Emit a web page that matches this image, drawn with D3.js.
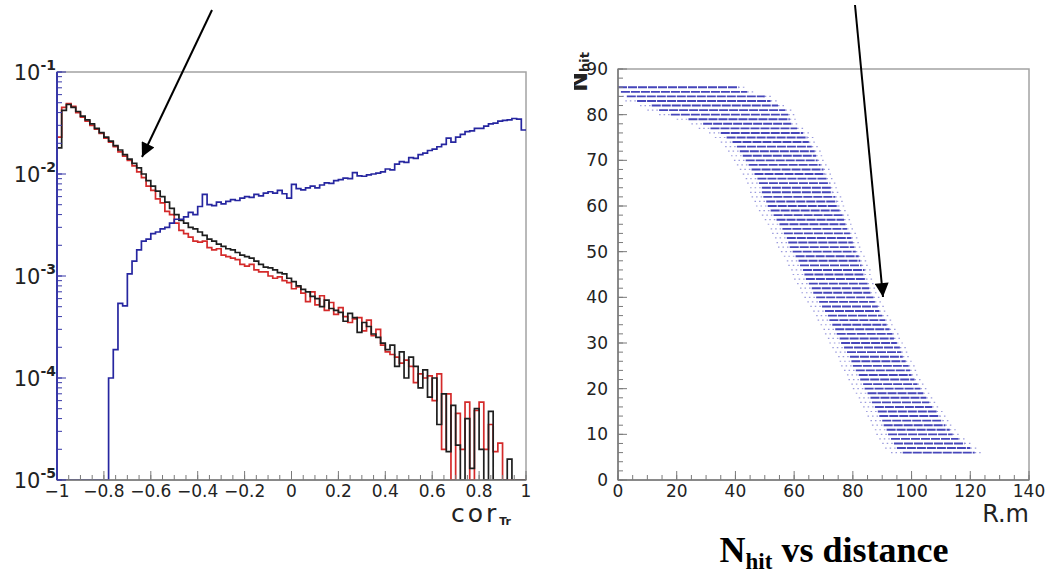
<!DOCTYPE html>
<html>
<head>
<meta charset="utf-8">
<script src="https://cdn.jsdelivr.net/npm/d3@7"></script>
<style>
body { margin: 0; background: #fff; }
</style>
</head>
<body>
<svg id="chart" width="1053" height="576"></svg>
<script>

// left panel: 100 bins of width 0.02 over cor_Tr [-1, 1]
let binRange = [-1, 1];

let blackHist = [
    1.8e-2, 4.2e-2, 4.8e-2, 4.5e-2, 4.1e-2, 3.7e-2, 3.4e-2, 3.1e-2, 2.8e-2, 2.55e-2,
    2.3e-2, 2.1e-2, 1.9e-2, 1.72e-2, 1.55e-2, 1.4e-2, 1.27e-2, 1.15e-2, 1.0e-2, 8.6e-3,
    7.6e-3, 6.8e-3, 6.0e-3, 5.3e-3, 4.6e-3, 4.0e-3, 3.5e-3, 3.3e-3, 3.0e-3, 2.9e-3,
    2.7e-3, 2.5e-3, 2.3e-3, 2.2e-3, 2.05e-3, 1.95e-3, 1.85e-3, 1.8e-3, 1.7e-3, 1.6e-3,
    1.55e-3, 1.5e-3, 1.4e-3, 1.3e-3, 1.22e-3, 1.2e-3, 1.15e-3, 1.08e-3, 1.05e-3, 9.5e-4,
    8.8e-4, 8.0e-4, 7.4e-4, 7.0e-4, 6.3e-4, 6.0e-4, 5.0e-4, 5.8e-4, 4.8e-4, 4.6e-4,
    4.4e-4, 3.6e-4, 4.3e-4, 3.9e-4, 2.8e-4, 3.5e-4, 3.2e-4, 2.7e-4, 2.5e-4, 2.2e-4,
    1.9e-4, 2.1e-4, 1.3e-4, 1.8e-4, 1.0e-4, 1.6e-4, 1.3e-4, 8.0e-5, 1.2e-4, 6.5e-5,
    1.0e-4, 3.5e-5, 7.0e-5, 1.9e-5, 5.4e-5, 2.2e-5, 0, 4.0e-5, 1.3e-5, 5.0e-5,
    2.0e-5, 0, 4.7e-5, 0, 0, 0, 1.6e-5, 0, 0, 0
];

let redHist = [
    2.3e-2, 4.5e-2, 4.9e-2, 4.6e-2, 4.0e-2, 3.6e-2, 3.3e-2, 3.0e-2, 2.75e-2, 2.5e-2,
    2.25e-2, 2.05e-2, 1.85e-2, 1.65e-2, 1.5e-2, 1.36e-2, 1.2e-2, 1.05e-2, 9.2e-3, 7.6e-3,
    6.9e-3, 5.7e-3, 5.2e-3, 4.3e-3, 4.0e-3, 3.3e-3, 2.8e-3, 2.6e-3, 2.4e-3, 2.2e-3,
    2.15e-3, 2.2e-3, 1.9e-3, 1.8e-3, 1.85e-3, 1.6e-3, 1.55e-3, 1.5e-3, 1.45e-3, 1.3e-3,
    1.25e-3, 1.3e-3, 1.15e-3, 1.1e-3, 1.1e-3, 1.0e-3, 9.5e-4, 9.8e-4, 9.0e-4, 8.6e-4,
    7.5e-4, 7.8e-4, 6.8e-4, 5.6e-4, 7.0e-4, 5.2e-4, 6.4e-4, 4.6e-4, 5.5e-4, 4.2e-4,
    4.9e-4, 4.0e-4, 3.5e-4, 3.8e-4, 3.9e-4, 2.9e-4, 3.7e-4, 2.6e-4, 3.0e-4, 2.1e-4,
    1.8e-4, 1.7e-4, 1.6e-4, 1.4e-4, 1.5e-4, 1.3e-4, 9.0e-5, 1.1e-4, 1.0e-4, 1.05e-4,
    6.0e-5, 1.1e-4, 2.0e-5, 7.0e-5, 0, 4.5e-5, 2.0e-5, 5.8e-5, 1.0e-5, 4.8e-5,
    5.8e-5, 2.0e-5, 3.5e-5, 1.9e-5, 2.3e-5, 0, 0, 0, 0, 0
];

let blueHist = [
    0, 0, 0, 0, 0, 0, 0, 0, 0, 0,
    0, 1.0e-4, 1.9e-4, 5.4e-4, 5.1e-4, 1.05e-3, 1.4e-3, 1.8e-3, 2.2e-3, 2.3e-3,
    2.6e-3, 2.7e-3, 2.9e-3, 3.0e-3, 3.3e-3, 3.6e-3, 3.6e-3, 3.8e-3, 4.2e-3, 4.0e-3,
    4.8e-3, 6.3e-3, 5.0e-3, 4.9e-3, 5.3e-3, 5.1e-3, 5.4e-3, 5.6e-3, 5.5e-3, 5.8e-3,
    6.0e-3, 5.9e-3, 6.3e-3, 6.1e-3, 6.5e-3, 6.7e-3, 6.5e-3, 6.9e-3, 6.4e-3, 5.8e-3,
    7.9e-3, 7.2e-3, 7.0e-3, 7.3e-3, 7.6e-3, 7.3e-3, 7.8e-3, 8.2e-3, 8.1e-3, 8.6e-3,
    8.8e-3, 9.1e-3, 9.0e-3, 1.03e-2, 9.6e-3, 9.5e-3, 9.8e-3, 1.0e-2, 1.02e-2, 1.05e-2,
    1.12e-2, 1.1e-2, 1.25e-2, 1.32e-2, 1.3e-2, 1.45e-2, 1.42e-2, 1.55e-2, 1.6e-2, 1.7e-2,
    1.75e-2, 1.85e-2, 1.95e-2, 2.25e-2, 2.05e-2, 2.3e-2, 2.45e-2, 2.6e-2, 2.65e-2, 2.8e-2,
    2.8e-2, 2.95e-2, 3.1e-2, 3.15e-2, 3.3e-2, 3.35e-2, 3.4e-2, 3.5e-2, 3.45e-2, 2.7e-2
];

let corTicks = [-1, -0.8, -0.6, -0.4, -0.2, 0, 0.2, 0.4, 0.6, 0.8, 1];
let corTickLabels = ['\u22121', '\u22120.8', '\u22120.6', '\u22120.4', '\u22120.2', '0', '0.2', '0.4', '0.6', '0.8', '1'];
let logTicks = [1e-1, 1e-2, 1e-3, 1e-4, 1e-5];
let logTickExp = ['-1', '-2', '-3', '-4', '-5'];

// right panel: one row of hits per N_hit, from start to end distance (m)
let rowNhit = [86, 85, 84, 83, 82, 81, 80, 79, 78, 77, 76, 75, 74, 73, 72, 71, 70, 69, 68, 67,
    66, 65, 64, 63, 62, 61, 60, 59, 58, 57, 56, 55, 54, 53, 52, 51, 50, 49, 48, 47,
    46, 45, 44, 43, 42, 41, 40, 39, 38, 37, 36, 35, 34, 33, 32, 31, 30, 29, 28, 27,
    26, 25, 24, 23, 22, 21, 20, 19, 18, 17, 16, 15, 14, 13, 12, 11, 10, 9, 8, 7, 6];
let rowStart = [0, 1, 3, 6.5, 11.5, 14, 18, 24, 29, 31.5, 35, 37, 39, 40.5, 41.5, 42.5, 43.5, 44.5, 45.5, 46.5,
    47.5, 48, 49, 49, 49.5, 50.5, 51, 52, 53, 54, 55, 56, 56.5, 57.5, 58, 58.5, 59.5, 60.5, 61.5, 62,
    63, 63.5, 64, 65, 66, 66.5, 67.5, 68.5, 69.5, 70.5, 71.5, 72, 73, 74, 74.5, 75.5, 76, 77, 78, 79,
    79.5, 80, 81, 82, 82.5, 83.5, 84, 85, 86, 86.5, 87.5, 88.5, 89, 90, 90.5, 91.5, 92, 93, 94, 95, 97];
let rowEnd = [41, 44, 50, 52, 54.5, 57, 58, 58.5, 59, 61, 63, 64.5, 65, 66, 67, 67.5, 68, 69, 70, 70.5,
    71, 72, 72.5, 73, 74, 74.5, 75, 75.5, 76.5, 77, 77.5, 78, 79, 79.5, 80, 80.5, 81, 82, 82.5, 83,
    84, 84, 84.5, 85, 85.5, 86, 87, 87.5, 88.5, 89, 90, 91, 91.5, 92.5, 93.5, 94, 95, 96, 96.5, 97,
    98, 99, 99.5, 100, 101, 102, 103, 104, 105, 106, 107, 108.5, 109.5, 110.5, 111.5, 113, 114, 116, 118, 120, 121.5];
let rTicks = [0, 20, 40, 60, 80, 100, 120, 140];
let nTicks = [0, 10, 20, 30, 40, 50, 60, 70, 80, 90];


let svg = d3.select('#chart');
let tickFont = 'DejaVu Sans, sans-serif';
let frameColor = '#a3a3a3';
let axisColor = '#7a7a7a';

// ---------------- left panel ----------------
let xL = d3.scaleLinear().domain(binRange).range([57, 526]);
let yL = d3.scaleLog().domain([1e-5, 1e-1]).range([480, 72]).clamp(true);

svg.append('clipPath').attr('id', 'clipL')
    .append('rect').attr('x', 57).attr('y', 72).attr('width', 469).attr('height', 408);

// frame
svg.append('rect')
    .attr('x', 57).attr('y', 72).attr('width', 469).attr('height', 408)
    .attr('fill', 'none').attr('stroke', frameColor).attr('stroke-width', 1.5);

// turn bin contents into step points
function stepPoints(vals) {
    let w = (binRange[1] - binRange[0]) / vals.length;
    let pts = [];
    vals.forEach(function (v, i) {
        let lo = binRange[0] + i * w;
        let vv = v > 0 ? v : 1e-5;
        pts.push([lo, vv], [lo + w, vv]);
    });
    return pts;
}

let histLine = d3.line()
    .x(d => xL(d[0]))
    .y(d => yL(d[1]));

let series = [
    { vals: redHist, color: '#d42a2a' },
    { vals: blackHist, color: '#1e1e1e' },
    { vals: blueHist, color: '#2626a0' }
];

svg.append('g').attr('clip-path', 'url(#clipL)')
    .selectAll('path')
    .data(series)
    .join('path')
    .attr('d', d => histLine(stepPoints(d.vals)))
    .attr('fill', 'none')
    .attr('stroke', d => d.color)
    .attr('stroke-width', 1.7)
    .attr('stroke-linejoin', 'miter');

// x axis (ticks pointing inside)
let gxL = svg.append('g').attr('transform', 'translate(0,480)');
gxL.append('line').attr('x1', 57).attr('x2', 526).attr('stroke', axisColor).attr('stroke-width', 1.5);
gxL.selectAll('.minor')
    .data(d3.range(-1, 1.0001, 0.05))
    .join('line')
    .attr('x1', d => xL(d)).attr('x2', d => xL(d))
    .attr('y1', 0).attr('y2', -5)
    .attr('stroke', axisColor);
gxL.selectAll('.major')
    .data(corTicks)
    .join('line')
    .attr('x1', d => xL(d)).attr('x2', d => xL(d))
    .attr('y1', 0).attr('y2', -9)
    .attr('stroke', axisColor);
gxL.selectAll('text')
    .data(corTicks)
    .join('text')
    .attr('x', d => xL(d))
    .attr('y', 17)
    .attr('text-anchor', 'middle')
    .attr('font-family', tickFont)
    .attr('font-size', '17px')
    .attr('fill', '#222')
    .text((d, i) => corTickLabels[i]);

// y axis (log), drawn in blue like the reference
let gyL = svg.append('g');
let blueAxis = '#3838a8';
gyL.append('line').attr('x1', 57).attr('x2', 57).attr('y1', 72).attr('y2', 480)
    .attr('stroke', blueAxis).attr('stroke-width', 2);
gyL.selectAll('.minor')
    .data(yL.ticks())
    .join('line')
    .attr('x1', 57).attr('x2', 62)
    .attr('y1', d => yL(d)).attr('y2', d => yL(d))
    .attr('stroke', blueAxis);
gyL.selectAll('.major')
    .data(logTicks)
    .join('line')
    .attr('x1', 57).attr('x2', 66)
    .attr('y1', d => yL(d)).attr('y2', d => yL(d))
    .attr('stroke', blueAxis);

let logLabels = gyL.selectAll('text')
    .data(logTicks)
    .join('text')
    .attr('x', 56)
    .attr('y', d => yL(d) + 8)
    .attr('text-anchor', 'end')
    .attr('font-family', tickFont)
    .attr('fill', '#222');
logLabels.append('tspan').attr('font-size', '21px').text('10');
logLabels.append('tspan').attr('font-size', '14px').attr('font-weight', 'bold').attr('dy', -10)
    .text((d, i) => logTickExp[i]);

// x title: cor_Tr
let corTitle = svg.append('text')
    .attr('x', 451).attr('y', 522)
    .attr('font-family', tickFont)
    .attr('fill', '#222');
corTitle.append('tspan').attr('font-size', '25px').attr('letter-spacing', '3px').text('cor');
corTitle.append('tspan').attr('font-size', '11px').attr('font-weight', 'bold').attr('dy', 3).text('Tr');

// ---------------- right panel ----------------
let xR = d3.scaleLinear().domain([0, 140]).range([618, 1029]);
let yR = d3.scaleLinear().domain([0, 90]).range([480, 69]);

svg.append('rect')
    .attr('x', 618).attr('y', 69).attr('width', 411).attr('height', 411)
    .attr('fill', 'none').attr('stroke', frameColor).attr('stroke-width', 1.5);

let rows = rowNhit.map((n, i) => ({ n: n, a: rowStart[i], b: rowEnd[i] }));

// Append the rows of hits
let gRows = svg.append('g');
gRows.selectAll('.core')
    .data(rows)
    .join('line')
    .attr('x1', d => xR(d.a)).attr('x2', d => xR(d.b))
    .attr('y1', d => yR(d.n)).attr('y2', d => yR(d.n))
    .attr('stroke', '#3232b4')
    .attr('stroke-width', 1.9)
    .attr('stroke-dasharray', '9,1')
    .attr('opacity', 0.9);
gRows.selectAll('.tailL')
    .data(rows.filter(d => d.a > 1))
    .join('line')
    .attr('x1', d => xR(Math.max(d.a - 4, 0))).attr('x2', d => xR(d.a))
    .attr('y1', d => yR(d.n)).attr('y2', d => yR(d.n))
    .attr('stroke', '#5a5ac8')
    .attr('stroke-width', 1.2)
    .attr('stroke-dasharray', '1.5,3')
    .attr('opacity', 0.6);
gRows.selectAll('.tailR')
    .data(rows)
    .join('line')
    .attr('x1', d => xR(d.b)).attr('x2', d => xR(d.b + 3))
    .attr('y1', d => yR(d.n)).attr('y2', d => yR(d.n))
    .attr('stroke', '#5a5ac8')
    .attr('stroke-width', 1.2)
    .attr('stroke-dasharray', '1.5,3')
    .attr('opacity', 0.6);

// x axis
let gxR = svg.append('g').attr('transform', 'translate(0,480)');
gxR.append('line').attr('x1', 618).attr('x2', 1029).attr('stroke', axisColor).attr('stroke-width', 1.5);
gxR.selectAll('.minor')
    .data(d3.range(0, 141, 5))
    .join('line')
    .attr('x1', d => xR(d)).attr('x2', d => xR(d))
    .attr('y1', 0).attr('y2', -5)
    .attr('stroke', axisColor);
gxR.selectAll('.major')
    .data(rTicks)
    .join('line')
    .attr('x1', d => xR(d)).attr('x2', d => xR(d))
    .attr('y1', 0).attr('y2', -9)
    .attr('stroke', axisColor);
gxR.selectAll('text')
    .data(rTicks)
    .join('text')
    .attr('x', d => xR(d))
    .attr('y', 17)
    .attr('text-anchor', 'middle')
    .attr('font-family', tickFont)
    .attr('font-size', '17px')
    .attr('fill', '#222')
    .text(d => d);

// y axis
let gyR = svg.append('g');
gyR.append('line').attr('x1', 618).attr('x2', 618).attr('y1', 69).attr('y2', 480)
    .attr('stroke', axisColor).attr('stroke-width', 1.5);
gyR.selectAll('.minor')
    .data(d3.range(0, 91, 2))
    .join('line')
    .attr('x1', 618).attr('x2', 623)
    .attr('y1', d => yR(d)).attr('y2', d => yR(d))
    .attr('stroke', axisColor);
gyR.selectAll('.major')
    .data(nTicks)
    .join('line')
    .attr('x1', 618).attr('x2', 627)
    .attr('y1', d => yR(d)).attr('y2', d => yR(d))
    .attr('stroke', axisColor);
gyR.selectAll('text')
    .data(nTicks)
    .join('text')
    .attr('x', 608)
    .attr('y', d => yR(d) + 6)
    .attr('text-anchor', 'end')
    .attr('font-family', tickFont)
    .attr('font-size', '17px')
    .attr('fill', '#222')
    .text(d => d);

// axis titles
svg.append('text')
    .attr('x', 1029).attr('y', 522)
    .attr('text-anchor', 'end')
    .attr('font-family', tickFont)
    .attr('font-size', '24px')
    .attr('fill', '#222')
    .text('R.m');

// N_hit title, rotated and partly cut at the left like the reference
svg.append('clipPath').attr('id', 'clipY')
    .append('rect').attr('x', 574).attr('y', 40).attr('width', 16).attr('height', 90);
let nTitle = svg.append('g')
    .attr('clip-path', 'url(#clipY)')
    .append('text')
    .attr('transform', 'translate(587,52) rotate(-90)')
    .attr('text-anchor', 'end')
    .attr('font-family', tickFont)
    .attr('font-weight', 'bold')
    .attr('fill', '#222');
nTitle.append('tspan').attr('font-size', '24px').text('N');
nTitle.append('tspan').attr('font-size', '13px').attr('dy', 2).text('hit');

// caption under right panel
let caption = svg.append('text')
    .attr('x', 834).attr('y', 562)
    .attr('text-anchor', 'middle')
    .attr('font-family', 'Liberation Serif, Times New Roman, serif')
    .attr('font-weight', 'bold')
    .attr('fill', '#000');
caption.append('tspan').attr('font-size', '36px').text('N');
caption.append('tspan').attr('font-size', '23px').attr('dy', 7).text('hit');
caption.append('tspan').attr('font-size', '36px').attr('dy', -7).text(' vs distance');

// ---------------- arrows ----------------
svg.append('defs').append('marker')
    .attr('id', 'head')
    .attr('viewBox', '0 0 10 10')
    .attr('refX', 10).attr('refY', 5)
    .attr('markerWidth', 7.5).attr('markerHeight', 7)
    .attr('markerUnits', 'strokeWidth')
    .attr('orient', 'auto')
    .append('path')
    .attr('d', 'M0,0 L10,5 L0,10 Z')
    .attr('fill', '#000');

let arrows = [[212, 10, 142, 157], [855, 5, 883, 297]];
svg.selectAll('.arrow')
    .data(arrows)
    .join('line')
    .attr('x1', d => d[0]).attr('y1', d => d[1])
    .attr('x2', d => d[2]).attr('y2', d => d[3])
    .attr('stroke', '#000')
    .attr('stroke-width', 2)
    .attr('marker-end', 'url(#head)');

</script>
</body>
</html>
